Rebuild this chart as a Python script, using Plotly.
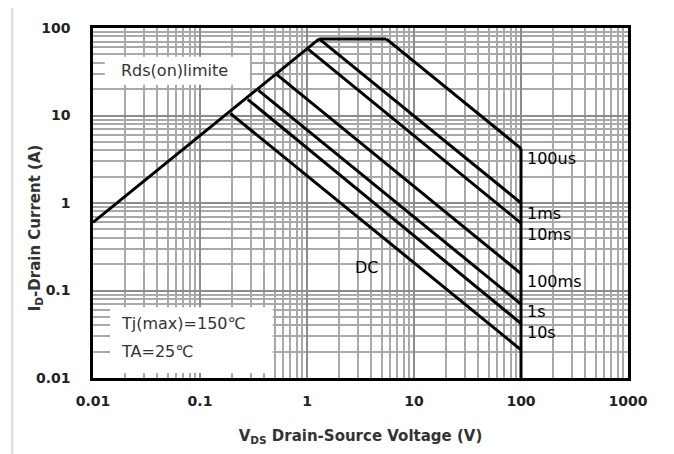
import math
import plotly.graph_objects as go

# Data (V in volts, I in amps)
rds_v = [0.01, 1.3]
rds_i = [0.6, 75]
top_v = [1.3, 5.5]
top_i = [75, 75]
us100_v = [5.5, 100]
us100_i = [75, 4.2]
ms1_v = [1.3, 100]
ms1_i = [75, 1.0]
ms10_v = [1.03, 100]
ms10_i = [57, 0.59]
ms100_v = [0.52, 100]
ms100_i = [29.5, 0.156]
s1_v = [0.352, 100]
s1_i = [19.4, 0.070]
s10_v = [0.279, 100]
s10_i = [15.3, 0.042]
dc_v = [0.192, 100]
dc_i = [10.6, 0.021]
limit_v = [100, 100]
limit_i = [4.2, 0.01]

tick_vals = [0.01, 0.1, 1, 10, 100, 1000]
tick_text = ["0.01", "0.1", "1", "10", "100", "1000"]
ytick_vals = [0.01, 0.1, 1, 10, 100]
ytick_text = ["0.01", "0.1", "1", "10", "100"]

labels = ["100us", "1ms", "10ms", "100ms", "1s", "10s"]
label_y = [3.19, 0.757, 0.438, 0.126, 0.0577, 0.0328]

minor_x = [k * 10 ** n for n in range(-2, 3) for k in range(2, 10)]
minor_y = [k * 10 ** n for n in range(-2, 2) for k in range(2, 10)]

fig = go.Figure()
segments = [(rds_v, rds_i), (top_v, top_i), (us100_v, us100_i), (ms1_v, ms1_i),
            (ms10_v, ms10_i), (ms100_v, ms100_i), (s1_v, s1_i), (s10_v, s10_i),
            (dc_v, dc_i), (limit_v, limit_i)]
for vx, iy in segments:
    fig.add_trace(go.Scatter(x=vx, y=iy, mode="lines",
                             line=dict(color="black", width=3), showlegend=False,
                             hoverinfo="skip"))

lbl_font = dict(family="DejaVu Sans, sans-serif", size=16, color="black")
for t, yv in zip(labels, label_y):
    fig.add_annotation(x=2.05, y=math.log10(yv), xref="x", yref="y",
                       text=t, showarrow=False, xanchor="left", yanchor="middle",
                       font=lbl_font, borderpad=0)
fig.add_annotation(x=math.log10(3.64), y=math.log10(0.181),
                   xref="x", yref="y", text="DC", showarrow=False,
                   xanchor="center", yanchor="middle", font=lbl_font)

box_font = dict(family="DejaVu Sans, sans-serif", size=16, color="#333333")
# White boxes
fig.add_shape(type="rect", xref="paper", yref="paper", x0=0.022, x1=0.293,
              y0=0.838, y1=0.918, fillcolor="white", line=dict(width=0), layer="above")
fig.add_shape(type="rect", xref="paper", yref="paper", x0=0.032, x1=0.336,
              y0=0.014, y1=0.202, fillcolor="white", line=dict(width=0), layer="above")
fig.add_annotation(x=0.048, y=0.878, xref="paper", yref="paper", text="Rds(on)limite",
                   showarrow=False, xanchor="left", yanchor="middle", font=box_font)
fig.add_annotation(x=0.048, y=0.155, xref="paper", yref="paper", text="Tj(max)=150℃",
                   showarrow=False, xanchor="left", yanchor="middle", font=box_font)
fig.add_annotation(x=0.048, y=0.075, xref="paper", yref="paper", text="TA=25℃",
                   showarrow=False, xanchor="left", yanchor="middle", font=box_font)

# Outer light frame
fig.add_shape(type="rect", xref="paper", yref="paper", x0=-0.151, x1=1.077,
              y0=-0.30, y1=1.065, line=dict(color="#d9d9d9", width=2), layer="below")

tick_font = dict(family="DejaVu Sans, sans-serif", size=14, color="#222222", weight="bold")
title_font = dict(family="DejaVu Sans, sans-serif", size=15, color="#333333",
                  weight="bold")
axis_common = dict(type="log", showline=True, linecolor="black", linewidth=2.5,
                   mirror=True, showgrid=True, gridcolor="#8c8c8c", gridwidth=1.6,
                   ticks="", tickfont=tick_font, zeroline=False)

fig.update_xaxes(range=[-2, 3], tickvals=tick_vals, ticktext=tick_text,
                 ticklabelstandoff=8,
                 minor=dict(tickvals=minor_x, showgrid=True, gridcolor="#a9a9a9",
                            gridwidth=1.6, ticks=""),
                 title=dict(text="V<sub>DS</sub> Drain-Source Voltage (V)",
                            font=title_font, standoff=23),
                 **axis_common)
fig.update_yaxes(range=[-2, 2], tickvals=ytick_vals, ticktext=ytick_text,
                 ticklabelstandoff=17,
                 minor=dict(tickvals=minor_y, showgrid=True, gridcolor="#a9a9a9",
                            gridwidth=1.6, ticks=""),
                 **axis_common)

# Y-axis title placed as a rotated annotation to match reference position
fig.add_annotation(x=-0.107, y=0.43, xref="paper", yref="paper",
                   text="I<sub>D</sub>-Drain Current (A)", textangle=-90,
                   showarrow=False, xanchor="center", yanchor="middle", font=title_font)

fig.update_layout(width=666, height=446, margin=dict(l=85, r=46, t=18, b=76),
                  plot_bgcolor="white", paper_bgcolor="white",
                  font=dict(family="DejaVu Sans, sans-serif"))

fig.write_html("out.html")
